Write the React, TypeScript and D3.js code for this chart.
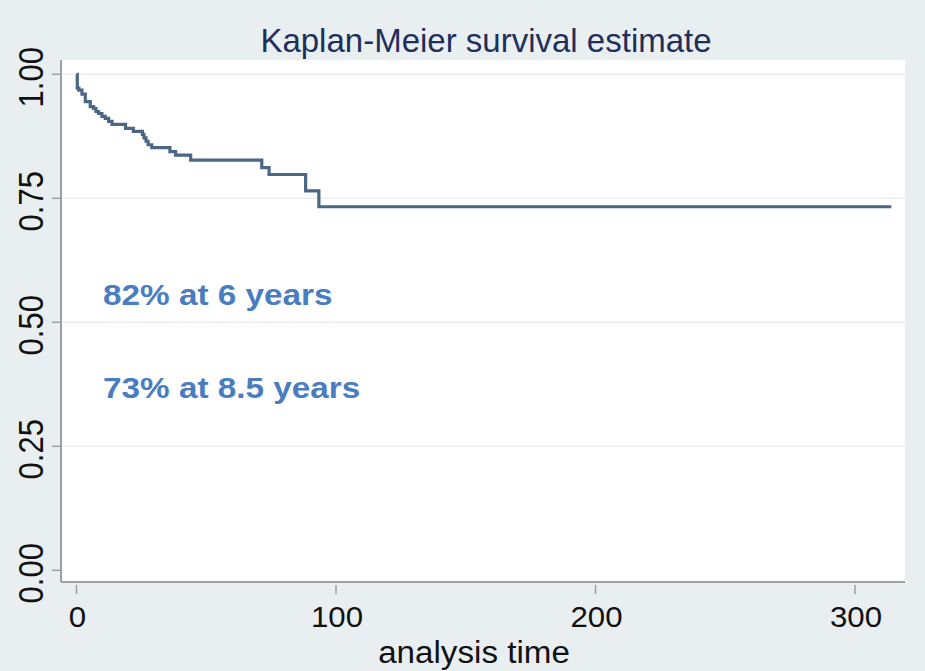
import { useRef, useEffect } from 'react';
import * as d3 from 'd3';

// Kaplan-Meier step points (analysis time, survival)
const TIMES = [0, 0.3, 0.9, 2.1, 3.4, 5.3, 6.6, 7.5, 8.5, 9.8, 11.1, 12.4, 13.7, 18.9, 21.9, 25.4, 26.0, 26.8, 27.6, 29.0, 36.0, 38.2, 44.0, 71.4, 74.2, 88.3, 93.4, 314];
const SURV = [1.0, 0.972, 0.968, 0.96, 0.945, 0.935, 0.931, 0.925, 0.921, 0.915, 0.911, 0.905, 0.899, 0.891, 0.885, 0.879, 0.872, 0.865, 0.858, 0.852, 0.844, 0.837, 0.827, 0.812, 0.798, 0.765, 0.733, 0.733];

const X_TICKS = [0, 100, 200, 300];
const Y_TICKS = [0, 0.25, 0.5, 0.75, 1];
const GRID = [0.25, 0.5, 0.75, 1];
const NOTES = [
  { text: '82% at 6 years', value: 0.535 },
  { text: '73% at 8.5 years', value: 0.347 },
];

export default function App() {
  const ref = useRef<SVGSVGElement>(null);

  useEffect(() => {
    const svg = ref.current;
    if (!svg) return;
    const W = 925, H = 671;
    const plotL = 62, plotR = 905, plotT = 60, plotB = 582;
    const font = '"Liberation Sans", Arial, Helvetica, sans-serif';

    d3.select(svg).selectAll('*').remove();
    const g = d3.select(svg).attr('viewBox', `0 0 ${W} ${H}`).append('g');

    const x = d3.scaleLinear().domain([0, 300]).range([76.5, 855]);
    const y = d3.scaleLinear().domain([0, 1]).range([570.3, 74.3]);

    // background + plot region
    g.append('rect').attr('width', W).attr('height', H).attr('fill', '#e9eff1');
    g.append('rect').attr('x', plotL).attr('y', plotT).attr('width', plotR - plotL).attr('height', plotB - plotT).attr('fill', '#ffffff');

    // grid
    GRID.forEach((v) => {
      g.append('line')
        .attr('x1', plotL).attr('x2', plotR).attr('y1', y(v)).attr('y2', y(v))
        .attr('stroke', '#eaeeef').attr('stroke-width', 1.5);
    });

    // axes
    g.append('line').attr('x1', plotL - 1).attr('x2', plotL - 1).attr('y1', plotT).attr('y2', plotB)
      .attr('stroke', '#9a9fa2').attr('stroke-width', 2);
    g.append('line').attr('x1', plotL - 1).attr('x2', plotR).attr('y1', plotB).attr('y2', plotB)
      .attr('stroke', '#9a9fa2').attr('stroke-width', 2);

    // y ticks + labels
    Y_TICKS.forEach((v) => {
      g.append('line').attr('x1', 52).attr('x2', plotL - 1).attr('y1', y(v)).attr('y2', y(v))
        .attr('stroke', '#9a9fa2').attr('stroke-width', 1.5);
      g.append('text')
        .attr('transform', `translate(43,${y(v) + 3}) rotate(-90) scale(1,1.12)`)
        .attr('text-anchor', 'middle').attr('font-family', font).attr('font-size', 31)
        .attr('fill', '#111').text(d3.format('.2f')(v));
    });

    // x ticks + labels
    X_TICKS.forEach((v) => {
      g.append('line').attr('x1', x(v)).attr('x2', x(v)).attr('y1', plotB + 3).attr('y2', plotB + 12)
        .attr('stroke', '#9a9fa2').attr('stroke-width', 1.5);
      g.append('text')
        .attr('transform', `translate(${x(v) + 1},627) scale(1.04,1)`)
        .attr('text-anchor', 'middle').attr('font-family', font).attr('font-size', 30)
        .attr('fill', '#111').text(String(v));
    });

    // survival curve
    const pts = TIMES.map((t, i) => [t, SURV[i]] as [number, number]);
    const line = d3.line<[number, number]>()
      .x((d) => x(d[0]))
      .y((d) => y(d[1]))
      .curve(d3.curveStepAfter);
    g.append('path').datum(pts).attr('d', line)
      .attr('fill', 'none').attr('stroke', '#4c6786').attr('stroke-width', 3.2);

    // annotations
    NOTES.forEach((n) => {
      g.append('text')
        .attr('transform', `translate(103,${y(n.value)}) scale(1.11,1)`)
        .attr('font-family', font).attr('font-size', 30).attr('font-weight', 'bold')
        .attr('fill', '#4a7dbf').text(n.text);
    });

    // title + axis title
    g.append('text').attr('x', 486).attr('y', 52)
      .attr('text-anchor', 'middle').attr('font-family', font).attr('font-size', 33)
      .attr('fill', '#1f2f5c').text('Kaplan-Meier survival estimate');
    g.append('text')
      .attr('transform', 'translate(474,663) scale(1.07,1)')
      .attr('text-anchor', 'middle').attr('font-family', font).attr('font-size', 31)
      .attr('fill', '#111').text('analysis time');
  }, []);

  return (
    <svg ref={ref} width={925} height={671} style={{ position: 'absolute', left: 0, top: 0 }} />
  );
}
